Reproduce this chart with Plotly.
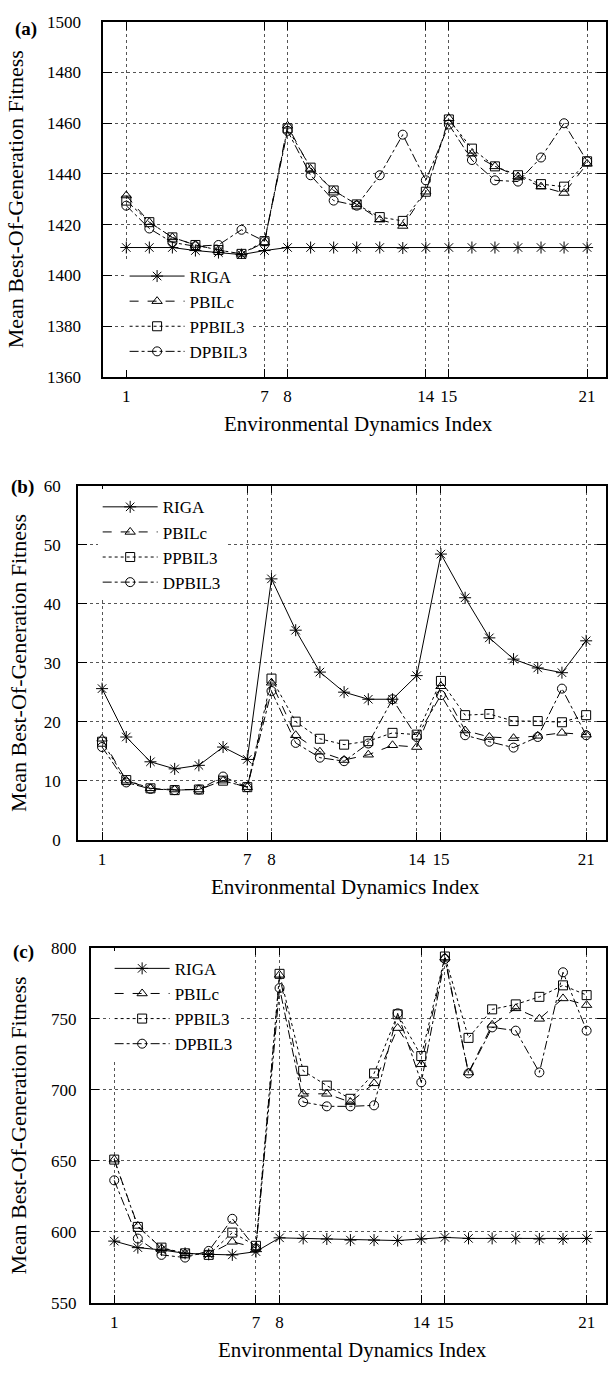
import plotly.graph_objects as go

# ---------------- data ----------------
x_index = list(range(1, 22))
x_tick_vals = [1, 7, 8, 14, 15, 21]
series_names = ["RIGA", "PBILc", "PPBIL3", "DPBIL3"]

a_riga = [1411, 1411, 1411, 1409.8, 1409, 1408.2, 1409.8, 1411, 1411, 1411, 1411,
          1411, 1410.8, 1411, 1411, 1411, 1411, 1411, 1411, 1411, 1411]
a_pbilc = [1431.5, 1421, 1415, 1412, 1410, 1408.5, 1413, 1459, 1442, 1433.5, 1428,
           1422, 1419.5, 1433, 1462, 1448, 1443, 1439, 1435, 1432.5, 1444]
a_ppbil3 = [1429.5, 1421, 1415, 1412, 1410, 1408.5, 1413.5, 1458, 1442.5, 1433.5, 1428,
            1423, 1421.5, 1433, 1461.5, 1450, 1443, 1439.5, 1436, 1435, 1445]
a_dpbil3 = [1427.5, 1418.5, 1413, 1411.5, 1412, 1418, 1413.5, 1457, 1439.5, 1429.5, 1427.5,
            1439.5, 1455.5, 1437.5, 1459.5, 1445.5, 1437.5, 1437, 1446.5, 1460, 1445]
a_yticks = [1360, 1380, 1400, 1420, 1440, 1460, 1480, 1500]

b_riga = [25.6, 17.4, 13.2, 12.0, 12.6, 15.7, 13.6, 44.2, 35.5, 28.4, 25.0,
          23.8, 23.8, 27.8, 48.4, 41.0, 34.2, 30.6, 29.1, 28.3, 33.7]
b_pbilc = [17.1, 10.0, 8.7, 8.5, 8.5, 10.0, 8.9, 26.6, 17.7, 14.9, 13.5,
           14.4, 16.0, 15.7, 26.0, 18.5, 17.4, 17.2, 17.6, 18.1, 17.8]
b_ppbil3 = [16.6, 10.1, 8.7, 8.4, 8.5, 10.0, 8.9, 27.3, 20.0, 17.1, 16.1,
            16.7, 18.1, 17.8, 26.9, 21.1, 21.3, 20.1, 20.1, 19.9, 21.1]
b_dpbil3 = [15.7, 9.7, 8.6, 8.4, 8.5, 10.7, 8.9, 25.2, 16.4, 13.9, 13.3,
            16.3, 23.8, 17.4, 24.5, 17.7, 16.6, 15.6, 17.4, 25.6, 17.7]
b_yticks = [0, 10, 20, 30, 40, 50, 60]

c_riga = [593.3, 588.7, 587.1, 584.7, 584.0, 583.6, 585.9, 595.6, 595.2, 594.8, 594.0,
          594.0, 593.7, 594.8, 595.9, 595.2, 595.2, 595.2, 594.8, 594.8, 595.2]
c_pbilc = [650.7, 604.0, 588.2, 584.7, 584.0, 592.8, 588.7, 780.8, 697.0, 697.0, 691.2,
           704.4, 743.3, 717.8, 793.0, 712.0, 745.6, 757.2, 749.8, 764.2, 759.5]
c_ppbil3 = [650.7, 603.3, 588.7, 584.7, 583.6, 599.3, 590.0, 781.5, 713.2, 702.8, 693.5,
            711.4, 753.0, 723.6, 793.7, 736.4, 756.5, 760.0, 765.3, 773.4, 766.5]
c_dpbil3 = [636.1, 595.1, 583.6, 581.7, 586.4, 609.0, 588.2, 771.5, 691.2, 688.2, 688.2,
            688.9, 753.7, 705.1, 792.0, 711.4, 743.8, 741.5, 712.1, 782.6, 741.5]
c_yticks = [550, 600, 650, 700, 750, 800]

panel_labels = ["(a)", "(b)", "(c)"]
y_title = "Mean Best-Of-Generation Fitness"
x_title = "Environmental Dynamics Index"

# ---------------- styling ----------------
W, H = 608, 1377
FONT = "Liberation Serif, Times New Roman, serif"
line_dash = {"RIGA": "solid", "PBILc": "dash", "PPBIL3": "dot", "DPBIL3": "dashdot"}
marker_symbol = {"RIGA": "asterisk-open", "PBILc": "triangle-up-open",
                 "PPBIL3": "square-open", "DPBIL3": "circle-open"}
marker_size = {"RIGA": 10, "PBILc": 9, "PPBIL3": 9, "DPBIL3": 9}


def fx(p):
    return p / W


def fy(p):
    return 1 - p / H


panels = [
    dict(data=[a_riga, a_pbilc, a_ppbil3, a_dpbil3], yticks=a_yticks, yrange=[1360, 1500],
         left=103.6, top=13, bottom=373, ylabgap=17, ytitle_x=15, label_xy=(26, 20),
         legend_xy=(125, 253)),
    dict(data=[b_riga, b_pbilc, b_ppbil3, b_dpbil3], yticks=b_yticks, yrange=[0, 60],
         left=78.1, top=483.3, bottom=842.3, ylabgap=12, ytitle_x=18.5, label_xy=(23, 485),
         legend_xy=(98, 487)),
    dict(data=[c_riga, c_pbilc, c_ppbil3, c_dpbil3], yticks=c_yticks, yrange=[550, 800],
         left=90.9, top=951.7, bottom=1311.7, ylabgap=9, ytitle_x=18.5, label_xy=(24, 956),
         legend_xy=(110, 955)),
]

fig = go.Figure()
annotations = []
layout = {}

for i, p in enumerate(panels):
    n = "" if i == 0 else str(i + 1)
    xa, ya = "x" + n, "y" + n
    leg = "legend" + n
    for name, vals in zip(series_names, p["data"]):
        fig.add_trace(go.Scatter(
            x=x_index, y=vals, name=name, mode="lines+markers",
            xaxis=xa, yaxis=ya, legend=leg,
            line=dict(color="black", width=1, dash=line_dash[name]),
            marker=dict(symbol=marker_symbol[name], size=marker_size[name], color="black",
                        line=dict(color="black", width=1)),
        ))
    layout["xaxis" + n] = dict(
        domain=[fx(p["left"]), 1.0], range=[0, 21.82], anchor=ya,
        tickmode="array", tickvals=x_tick_vals, ticks="inside", ticklen=8, tickwidth=1,
        tickcolor="black", showline=True, linecolor="black", linewidth=1.5, mirror="ticks",
        showgrid=True, gridcolor="#555", griddash="dot", gridwidth=1, zeroline=False,
        tickfont=dict(family=FONT, size=17, color="black"), ticklabelstandoff=3,
    )
    layout["yaxis" + n] = dict(
        domain=[fy(p["bottom"]), fy(p["top"])], range=p["yrange"], anchor=xa,
        tickmode="array", tickvals=p["yticks"], ticks="inside", ticklen=9, tickwidth=1,
        tickcolor="black", showline=True, linecolor="black", linewidth=1.5, mirror="ticks",
        showgrid=True, gridcolor="#555", griddash="dot", gridwidth=1, zeroline=False,
        tickfont=dict(family=FONT, size=17, color="black"), ticklabelstandoff=p["ylabgap"],
    )
    layout[leg] = dict(
        x=fx(p["legend_xy"][0]), y=fy(p["legend_xy"][1]), xanchor="left", yanchor="top",
        bgcolor="white", borderwidth=0, itemwidth=55,
        font=dict(family=FONT, size=17, color="black"), tracegroupgap=0,
    )
    annotations.append(dict(
        text="<b>" + panel_labels[i] + "</b>", xref="paper", yref="paper",
        x=fx(p["label_xy"][0]), y=fy(p["label_xy"][1]), xanchor="center", yanchor="middle",
        showarrow=False, font=dict(family=FONT, size=19, color="black"),
    ))
    annotations.append(dict(
        text=y_title, xref="paper", yref="paper", textangle=-90,
        x=fx(p["ytitle_x"]), y=fy((p["top"] + p["bottom"]) / 2),
        xanchor="center", yanchor="middle", showarrow=False,
        font=dict(family=FONT, size=22, color="black"),
    ))
    annotations.append(dict(
        text=x_title, xref="paper", yref="paper",
        x=fx((p["left"] + 608) / 2 + 4), y=fy(p["bottom"] + 48),
        xanchor="center", yanchor="middle", showarrow=False,
        font=dict(family=FONT, size=21, color="black"),
    ))

fig.update_layout(
    width=W, height=H, autosize=False,
    margin=dict(l=0, r=0, t=0, b=0),
    paper_bgcolor="white", plot_bgcolor="white",
    annotations=annotations, showlegend=True,
    **layout,
)

fig.write_html(
    "out.html",
    config={"displayModeBar": False},
    post_script="document.body.style.margin='0';"
                "document.documentElement.style.overflow='hidden';",
)
